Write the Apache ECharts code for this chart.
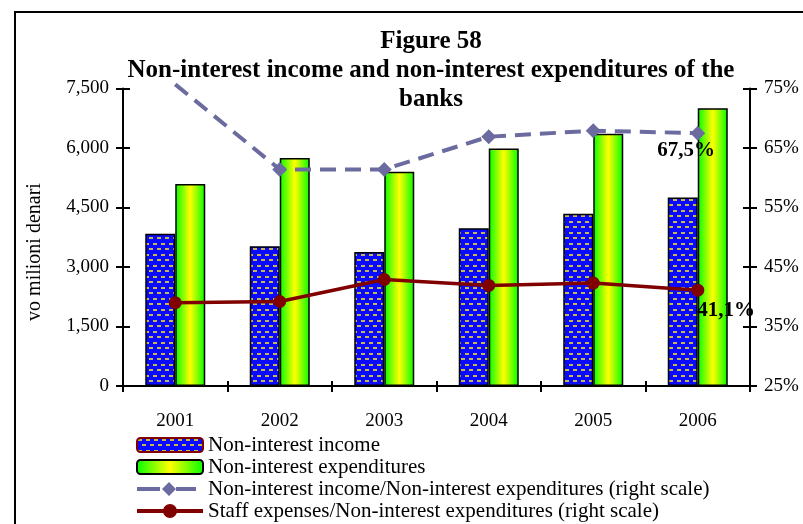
<!DOCTYPE html>
<html>
<head>
<meta charset="utf-8">
<script src="https://cdn.jsdelivr.net/npm/echarts@6/dist/echarts.min.js"></script>
<style>html,body{margin:0;padding:0;background:#fff}#c{width:803px;height:524px}</style>
</head>
<body>
<div id="c"></div>
<script>
const years = ['2001','2002','2003','2004','2005','2006'];
const income = [3840, 3520, 3380, 3980, 4340, 4750];
const expenditures = [5090, 5750, 5400, 5990, 6360, 7000];
const ratioIncomeExp = [75.7, 61.4, 61.4, 66.9, 67.9, 67.5];
const ratioStaff = [39.0, 39.2, 42.9, 41.9, 42.3, 41.1];
const leftTicks = {min: 0, max: 7500, interval: 1500};
const rightTicks = {min: 25, max: 75, interval: 10};
const names = ['Non-interest income', 'Non-interest expenditures',
  'Non-interest income/Non-interest expenditures (right scale)',
  'Staff expenses/Non-interest expenditures (right scale)'];

const FF = '"Liberation Serif", "Times New Roman", serif';

// dotted blue pattern
const pc = document.createElement('canvas');
pc.width = 8; pc.height = 11;
const px = pc.getContext('2d');
px.fillStyle = '#0a0aff'; px.fillRect(0, 0, 8, 11);
px.fillStyle = '#c8b84a';
px.fillRect(1, 1, 4, 2);
px.fillRect(5, 6, 3, 2); px.fillRect(0, 6, 1, 2);

const expGrad = new echarts.graphic.LinearGradient(0, 0, 1, 0, [
  {offset: 0, color: '#00ff00'}, {offset: 0.5, color: '#ffff00'}, {offset: 1, color: '#00ff00'}
]);

const last = years.length - 1;
const dashData = ratioIncomeExp.map((v, i) => {
  if (i === 0) return {value: v, symbol: 'none'};
  if (i === last) return {value: v, label: {show: true}};
  return v;
});
const staffData = ratioStaff.map((v, i) => i === last ? {value: v, label: {show: true}} : v);
const pctFmt = p => String(p.value).replace('.', ',') + '%';

// legend icons (66 x 14 box)
const dashIcon = 'path://M0 5H23V9H0Z M25 7L32 0L39 7L32 14Z M39 5H59V9H39Z M66 7';
const staffIcon = 'path://M0 5H66V9H0Z M26 7A7 7 0 1 1 40 7A7 7 0 1 1 26 7Z';

const chart = echarts.init(document.getElementById('c'));
const axisLbl = {fontFamily: FF, fontSize: 19, color: '#000'};
const blk = {color: '#000', width: 2};
const clear = {color: 'rgba(0,0,0,0)', width: 0};
chart.setOption({
  animation: false,
  title: {
    text: 'Figure 58\nNon-interest income and non-interest expenditures of the\nbanks',
    left: 426, top: 22, textAlign: 'center',
    textStyle: {fontFamily: FF, fontWeight: 'bold', fontSize: 25, lineHeight: 29, color: '#000'}
  },
  graphic: [
    {type: 'rect', shape: {x: 15, y: 12, width: 800, height: 530}, style: {fill: 'none', stroke: '#000', lineWidth: 2}, z: -10},
    {type: 'text', x: 35, y: 252, rotation: Math.PI / 2,
      style: {text: 'vo milioni denari', fontFamily: FF, fontSize: 20, fill: '#000', textAlign: 'center', textVerticalAlign: 'middle'}}
  ],
  grid: {left: 123, right: 53, top: 88.5, bottom: 138},
  legend: {
    orient: 'vertical', left: 132, top: 432, itemWidth: 66, itemHeight: 14, itemGap: 0,
    backgroundColor: '#fff', padding: [2, 4, 2, 4],
    textStyle: {fontFamily: FF, fontSize: 21, lineHeight: 22, color: '#000'},
    data: [
      {name: names[0], itemStyle: {borderColor: '#800000', borderWidth: 2}},
      {name: names[1], itemStyle: {borderColor: '#000', borderWidth: 2}},
      {name: names[2], icon: dashIcon, itemStyle: {color: '#6b6ba0', borderWidth: 0}},
      {name: names[3], icon: staffIcon, itemStyle: {color: '#800000', borderWidth: 0}}
    ]
  },
  xAxis: [
    {type: 'category', data: years, position: 'bottom',
      axisLine: {show: true, lineStyle: blk},
      axisTick: {show: true, length: 6, lineStyle: blk},
      axisLabel: Object.assign({margin: 26}, axisLbl)},
    {type: 'category', data: years, position: 'bottom',
      axisLine: {show: true, lineStyle: clear}, axisLabel: {show: false},
      axisTick: {show: true, inside: true, length: 5, lineStyle: blk}}
  ],
  yAxis: [
    Object.assign({type: 'value', position: 'left', splitLine: {show: false},
      axisLine: {show: true, lineStyle: blk},
      axisTick: {show: true, length: 7, lineStyle: blk},
      axisLabel: Object.assign({margin: 14, padding: [10, 0, 0, 0], formatter: v => v.toLocaleString('en-US')}, axisLbl)}, leftTicks),
    Object.assign({type: 'value', position: 'right', splitLine: {show: false},
      axisLine: {show: true, lineStyle: blk},
      axisTick: {show: true, length: 7, lineStyle: blk},
      axisLabel: Object.assign({margin: 14, padding: [10, 0, 0, 0], formatter: v => v + '%'}, axisLbl)}, rightTicks),
    Object.assign({type: 'value', position: 'left', splitLine: {show: false},
      axisLine: {show: true, lineStyle: clear}, axisLabel: {show: false},
      axisTick: {show: true, inside: true, length: 7, lineStyle: blk}}, leftTicks),
    Object.assign({type: 'value', position: 'right', splitLine: {show: false},
      axisLine: {show: true, lineStyle: clear}, axisLabel: {show: false},
      axisTick: {show: true, inside: true, length: 7, lineStyle: blk}}, rightTicks)
  ],
  series: [
    {name: names[0], type: 'bar', data: income, barWidth: 30, barGap: '0%',
      itemStyle: {color: {image: pc, repeat: 'repeat'}, borderColor: '#000', borderWidth: 1.5}},
    {name: names[1], type: 'bar', data: expenditures, barWidth: 30,
      itemStyle: {color: expGrad, borderColor: '#000', borderWidth: 1.5}},
    {name: names[2], type: 'line', yAxisIndex: 1, data: dashData, clip: false, z: 5,
      symbol: 'diamond', symbolSize: 15,
      lineStyle: {color: '#6b6ba0', width: 4, type: [16, 9]},
      itemStyle: {color: '#6b6ba0'},
      label: {show: false, position: [-33, 14], formatter: pctFmt,
        fontFamily: FF, fontWeight: 'bold', fontSize: 21, color: '#000'}},
    {name: names[3], type: 'line', yAxisIndex: 1, data: staffData, z: 6,
      symbol: 'circle', symbolSize: 13,
      lineStyle: {color: '#800000', width: 3.5},
      itemStyle: {color: '#800000'},
      label: {show: false, position: [6, 16], formatter: pctFmt,
        fontFamily: FF, fontWeight: 'bold', fontSize: 21, color: '#000'}},
    {name: 'tickHelperL', type: 'line', xAxisIndex: 1, yAxisIndex: 2, data: [], silent: true, symbol: 'none'},
    {name: 'tickHelperR', type: 'line', xAxisIndex: 1, yAxisIndex: 3, data: [], silent: true, symbol: 'none'}
  ]
});
</script>
</body>
</html>
